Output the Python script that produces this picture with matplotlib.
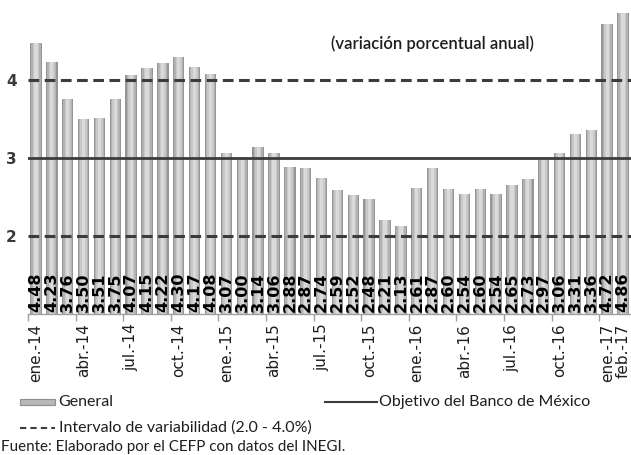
import matplotlib
matplotlib.use("Agg")
import matplotlib.pyplot as plt
from matplotlib.patches import Rectangle
from matplotlib.lines import Line2D

# Inflación general anual, ene-14 a feb-17
meses = [
    "ene.-14", "feb.-14", "mar.-14", "abr.-14", "may.-14", "jun.-14",
    "jul.-14", "ago.-14", "sep.-14", "oct.-14", "nov.-14", "dic.-14",
    "ene.-15", "feb.-15", "mar.-15", "abr.-15", "may.-15", "jun.-15",
    "jul.-15", "ago.-15", "sep.-15", "oct.-15", "nov.-15", "dic.-15",
    "ene.-16", "feb.-16", "mar.-16", "abr.-16", "may.-16", "jun.-16",
    "jul.-16", "ago.-16", "sep.-16", "oct.-16", "nov.-16", "dic.-16",
    "ene.-17", "feb.-17",
]
general = [
    4.48, 4.23, 3.76, 3.50, 3.51, 3.75, 4.07, 4.15, 4.22, 4.30, 4.17, 4.08,
    3.07, 3.00, 3.14, 3.06, 2.88, 2.87, 2.74, 2.59, 2.52, 2.48, 2.21, 2.13,
    2.61, 2.87, 2.60, 2.54, 2.60, 2.54, 2.65, 2.73, 2.97, 3.06, 3.31, 3.36,
    4.72, 4.86,
]
objetivo = 3.0
intervalo = [2.0, 4.0]
y_ticks = [2, 3, 4]
# meses que llevan etiqueta en el eje
etiquetados = list(range(0, 37, 3)) + [37]

TXT_FONT = ["Lato", "DejaVu Sans"]
LINE_COLOR = "#3c3c3c"

fig = plt.figure(figsize=(6.31, 4.55), dpi=100)
ax = fig.add_axes([0.0444, 0.3099, 0.9556, 0.6857])

x = list(range(len(general)))
base = 1.0
heights = [v - base for v in general]

# barras con apariencia cilíndrica: capas de grises superpuestas
for w, c in [(0.72, "#959595"), (0.58, "#b2b2b2"), (0.40, "#c8c8c8"), (0.20, "#dadada")]:
    ax.bar(x, heights, bottom=base, width=w, color=c, linewidth=0, zorder=2)

# líneas de referencia
for v in intervalo:
    ax.axhline(v, color=LINE_COLOR, lw=2.2, ls=(0, (3.5, 1.8)), zorder=3)
ax.axhline(objetivo, color=LINE_COLOR, lw=2.0, zorder=3)

# etiquetas de valor
for xi, v in zip(x, general):
    ax.text(xi, base + 0.025, f"{v:.2f}", rotation=90, ha="center", va="bottom",
            fontsize=11.5, fontweight="bold", color="black", zorder=4)

ax.set_xlim(-0.5, len(general) - 0.5)
ax.set_ylim(1, 5)
ax.set_yticks(y_ticks)
ax.set_yticklabels([str(t) for t in y_ticks], fontsize=11, fontweight="bold",
                   color="#3a3a3a")
ax.tick_params(axis="y", length=0, pad=8)

ax.set_xticks(etiquetados)
ax.set_xticklabels([meses[i] for i in etiquetados], rotation=90, fontsize=11,
                   color="#1e1e1e")
ax.set_xticks([i - 0.5 for i in range(0, 37, 3)], minor=True)
ax.tick_params(axis="x", which="major", length=0, pad=7)
ax.tick_params(axis="x", which="minor", length=5, color="#a0a0a0", width=1)

for s in ["top", "right", "left"]:
    ax.spines[s].set_visible(False)
ax.spines["bottom"].set_color("#a0a0a0")
ax.spines["bottom"].set_linewidth(1)

ax.text(0.686, 0.903, "(variación porcentual anual)", transform=fig.transFigure,
        ha="center", va="center", fontsize=12, fontweight="semibold",
        family=TXT_FONT, color="#1e1e1e")

# leyenda manual
fig.add_artist(Rectangle((0.032, 0.110), 0.055, 0.013, transform=fig.transFigure,
                         facecolor="#b8b8b8", edgecolor="#8e8e8e", lw=0.8))
fig.text(0.093, 0.1165, "General", fontsize=11.5, family=TXT_FONT,
         va="center", color="#1e1e1e")
fig.add_artist(Line2D([0.515, 0.598], [0.1165, 0.1165], transform=fig.transFigure,
                      color=LINE_COLOR, lw=1.5))
fig.text(0.601, 0.1165, "Objetivo del Banco de México", fontsize=11.5,
         family=TXT_FONT, va="center", color="#1e1e1e")
fig.add_artist(Line2D([0.032, 0.087], [0.0593, 0.0593], transform=fig.transFigure,
                      color=LINE_COLOR, lw=1.5, ls=(0, (3, 2))))
fig.text(0.093, 0.0593, "Intervalo de variabilidad (2.0 - 4.0%)", fontsize=11.5,
         family=TXT_FONT, va="center", color="#1e1e1e")
fig.text(0.002, 0.0176, "Fuente: Elaborado por el CEFP con datos del INEGI.",
         fontsize=10.9, family=TXT_FONT, va="center", color="#1e1e1e")

fig.savefig("out.png", dpi=100, facecolor="white")
